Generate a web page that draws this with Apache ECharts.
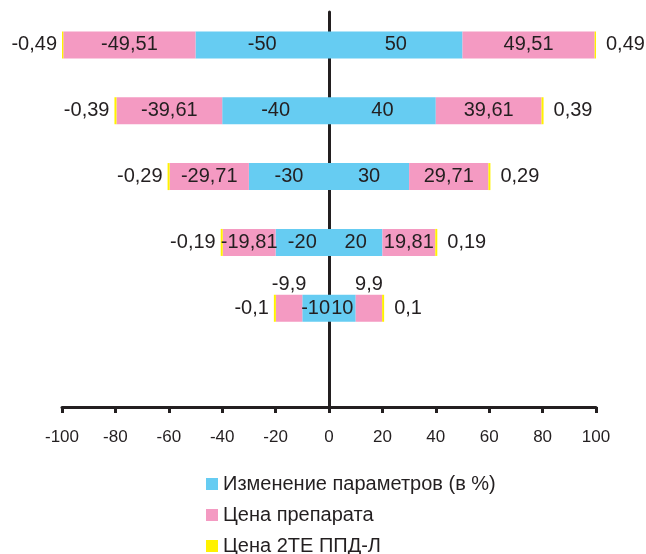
<!DOCTYPE html>
<html><head><meta charset="utf-8">
<script src="https://cdn.jsdelivr.net/npm/echarts@6/dist/echarts.min.js"></script>
<style>html,body{margin:0;padding:0;background:#fff}#c{width:646px;height:554px}</style>
</head><body><div id="c"></div>
<script>
// rows top to bottom (last row empty)
const categories = ['50', '40', '30', '20', '10', ''];
const changePos = [50, 40, 30, 20, 10, null];
const changeNeg = [-50, -40, -30, -20, -10, null];
const pricePos = [49.51, 39.61, 29.71, 19.81, 9.9, null];
const priceNeg = [-49.51, -39.61, -29.71, -19.81, -9.9, null];
const ppdPos = [0.49, 0.39, 0.29, 0.19, 0.1, null];
const ppdNeg = [-0.49, -0.39, -0.29, -0.19, -0.1, null];
const xTicks = [-100, -80, -60, -40, -20, 0, 20, 40, 60, 80, 100];

const names = ['Изменение параметров (в %)', 'Цена препарата', 'Цена 2ТЕ ППД-Л'];
const colors = ['#66CCF2', '#F49AC2', '#FFF200'];
const fmt = p => (p.value == null ? '' : String(p.value).replace('.', ','));
const font = 'Liberation Sans, Arial, sans-serif';
const lbl = {show: true, formatter: fmt, color: '#231f20', fontSize: 20, fontFamily: font};

function priceData(arr) {
  return arr.map((v, i) => (v != null && Math.abs(v) < 10) ? {value: v, label: {position: 'top', distance: 0}} : v);
}

const series = [];
function add(nameIdx, data, label, extra) {
  series.push(Object.assign({
    name: names[nameIdx], type: 'bar', stack: 'all', data: data,
    barWidth: 27, itemStyle: {color: colors[nameIdx]},
    label: Object.assign({}, lbl, label)
  }, extra || {}));
}
add(0, changePos, {position: 'inside'});
add(0, changeNeg, {position: 'inside'});
add(1, priceData(pricePos), {position: 'inside'});
add(1, priceData(priceNeg), {position: 'inside'});
add(2, ppdPos, {position: 'right', distance: 10}, {barMinHeight: 2});
add(2, ppdNeg, {position: 'left', distance: 5}, {barMinHeight: 2});

const chart = echarts.init(document.getElementById('c'));
chart.setOption({
  animation: false,
  grid: {left: 62, right: 50, top: 12, bottom: 147, containLabel: false},
  legend: {
    data: names, orient: 'vertical', left: 206, top: 473, height: 120, padding: 0,
    itemWidth: 12, itemHeight: 12, itemGap: 9, icon: 'rect',
    textStyle: {fontSize: 20, lineHeight: 22, fontFamily: font, color: '#231f20'}
  },
  xAxis: {
    type: 'value', min: xTicks[0], max: xTicks[xTicks.length - 1], interval: 20,
    splitLine: {show: false},
    axisLine: {show: true, lineStyle: {color: '#231f20', width: 3}},
    axisTick: {show: true, length: 6, lineStyle: {color: '#231f20', width: 3}},
    axisLabel: {fontSize: 17, fontFamily: font, color: '#231f20', margin: 22}
  },
  yAxis: {
    type: 'category', data: categories, inverse: true,
    axisLine: {show: true, onZero: true, lineStyle: {color: '#231f20', width: 3}},
    axisTick: {show: false}, axisLabel: {show: false}
  },
  series: series
});
</script></body></html>
